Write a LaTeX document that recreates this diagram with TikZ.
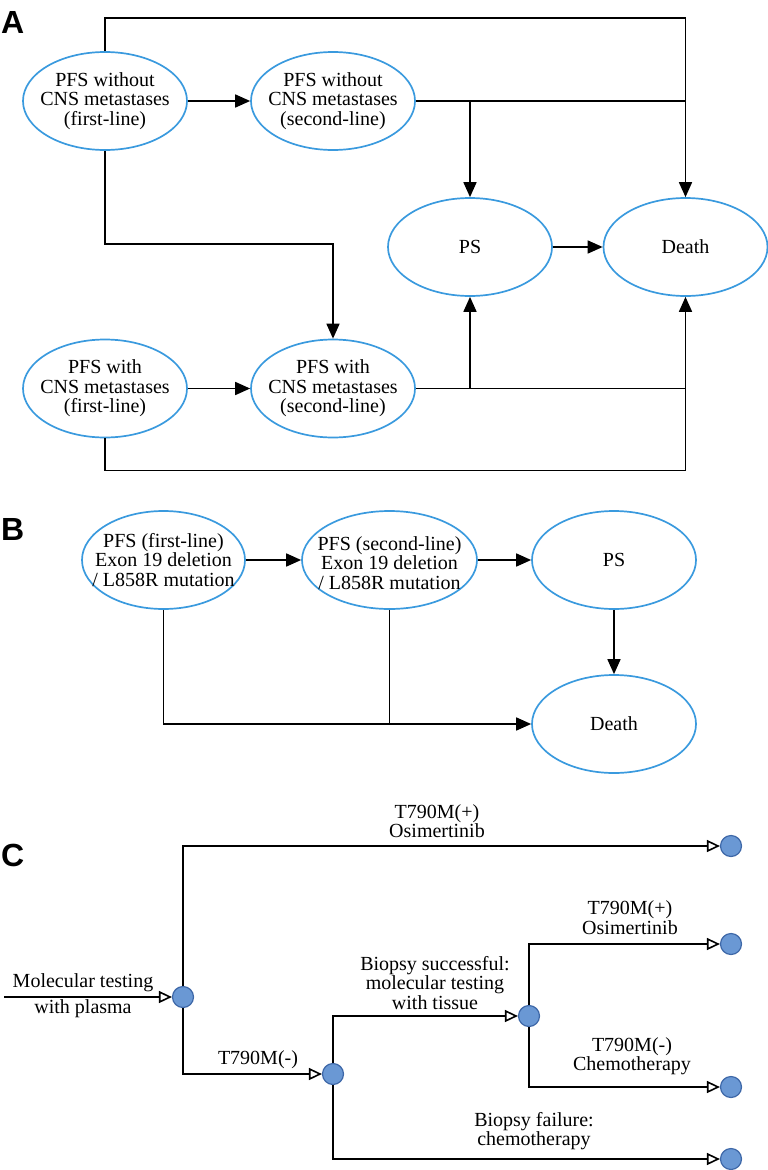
\documentclass[tikz,border=0pt]{standalone}
\usepackage{fontspec}
\setmainfont{Liberation Serif}
\setsansfont{Liberation Sans}
\usepackage{tikz}
\usetikzlibrary{positioning, arrows.meta, shapes.geometric}
\definecolor{stateblue}{RGB}{58,154,222}
\definecolor{dotfill}{RGB}{106,152,212}
\definecolor{dotdraw}{RGB}{62,104,168}

\begin{document}
\begin{tikzpicture}[
        x=1pt, y=-1pt,
        font=\fontsize{20}{19.5}\selectfont,
        state/.style={ellipse, draw=stateblue, line width=1.7pt, minimum width=#1, minimum height=98pt, inner sep=0pt},
        state/.default=164pt,
        stxt/.style={align=center, inner sep=0pt},
        arr/.style={-{Triangle[length=15pt, width=13pt]}, line width=1.7pt},
        ln/.style={line width=1.7pt},
        oarr/.style={-{Triangle[open, length=13pt, width=12pt]}, line width=1.6pt},
        dot/.style={circle, draw=dotdraw, fill=dotfill, line width=1.2pt, minimum size=21pt, inner sep=0pt},
        panel/.style={font=\fontsize{32}{32}\selectfont\sffamily\bfseries, anchor=base west, inner sep=0pt},
        tag/.style={align=center, inner sep=0pt},
    ]
    \useasboundingbox (0,0) rectangle (768,1170);

    % ---- Panel A ----
    \node[panel] (a-tag) at (1,33) {A};
    \node[state, label={[stxt]center:PFS without\\CNS metastases\\(first-line)}] (a-nocns1) at (105,101) {};
    \node[state, label={[stxt]center:PFS without\\CNS metastases\\(second-line)}] (a-nocns2) at (333,101) {};
    \node[state, label={[stxt]center:PS}] (a-ps) at (470,247) {};
    \node[state, label={[stxt]center:Death}] (a-death) at (685.5,247) {};
    \node[state, label={[stxt]center:PFS with\\CNS metastases\\(first-line)}] (a-cns1) at (105,388.5) {};
    \node[state, label={[stxt]center:PFS with\\CNS metastases\\(second-line)}] (a-cns2) at (333,388.5) {};

    \draw[arr] (a-nocns1) -- (a-nocns2);
    \draw[arr] (a-cns1) -- (a-cns2);
    \draw[arr] (a-ps) -- (a-death);
    \draw[arr] (a-nocns1.north) -- ++(0,-33) -| (a-death.north);
    \draw[ln] (a-nocns2.east) -- (a-nocns2.east -| a-death.north);
    \draw[arr] (a-nocns2.east -| a-ps.north) -- (a-ps.north);
    \draw[arr] (a-nocns1.south) -- ++(0,93) -| (a-cns2.north);
    \draw[arr] (a-cns1.south) -- ++(0,32) -| (a-death.south);
    \draw[ln] (a-cns2.east) -- (a-cns2.east -| a-death.south);
    \draw[arr] (a-cns2.east -| a-ps.south) -- (a-ps.south);

    % ---- Panel B ----
    \node[panel] (b-tag) at (1,540) {B};
    \node[state=163pt, label={[stxt]center:PFS (first-line)\\Exon 19 deletion\\/ L858R mutation}] (b-first) at (163.5,560) {};
    \node[state=175pt, label={[stxt, yshift=-3pt]center:PFS (second-line)\\Exon 19 deletion\\/ L858R mutation}] (b-second) at (389.5,560) {};
    \node[state, label={[stxt]center:PS}] (b-ps) at (614,560) {};
    \node[state, label={[stxt]center:Death}] (b-death) at (614,724) {};

    \draw[arr] (b-first) -- (b-second);
    \draw[arr] (b-second) -- (b-ps);
    \draw[arr] (b-ps) -- (b-death);
    \draw[arr] (b-first.south) |- (b-death.west);
    \draw[ln] (b-second.south) -- (b-second.south |- b-death.west);

    % ---- Panel C ----
    \node[panel] (c-tag) at (1,866) {C};
    \coordinate (c-in) at (4,997);
    \node[dot] (c-root) at (183,997) {};
    \node[dot] (c-neg) at (333,1074) {};
    \node[dot] (c-tissue) at (529,1016) {};
    \node[dot] (c-end1) at (731,846) {};
    \node[dot] (c-end2) at (731,944) {};
    \node[dot] (c-end3) at (731,1087) {};
    \node[dot] (c-end4) at (731,1159) {};

    \draw[oarr] (c-in) -- (c-root);
    \draw[oarr] (c-root) |- (c-end1);
    \draw[oarr] (c-root) |- (c-neg);
    \draw[oarr] (c-neg) |- (c-tissue);
    \draw[oarr] (c-neg) |- (c-end4);
    \draw[oarr] (c-tissue) |- (c-end2);
    \draw[oarr] (c-tissue) |- (c-end3);

    \node[tag] (c-lab-plasma1) at (83,983) {Molecular testing};
    \node[tag] (c-lab-plasma2) at (83,1009) {with plasma};
    \node[tag] (c-lab-pos1) at (437,821) {T790M(+)\\Osimertinib};
    \node[tag] (c-lab-neg) at (258,1060) {T790M(-)};
    \node[tag] (c-lab-tissue) at (435,983) {Biopsy successful:\\molecular testing\\with tissue};
    \node[tag] (c-lab-pos2) at (630,917.5) {T790M(+)\\Osimertinib};
    \node[tag] (c-lab-chemo) at (632,1056) {T790M(-)\\Chemotherapy};
    \node[tag] (c-lab-fail) at (534,1131) {Biopsy failure:\\chemotherapy};
\end{tikzpicture}
\end{document}
